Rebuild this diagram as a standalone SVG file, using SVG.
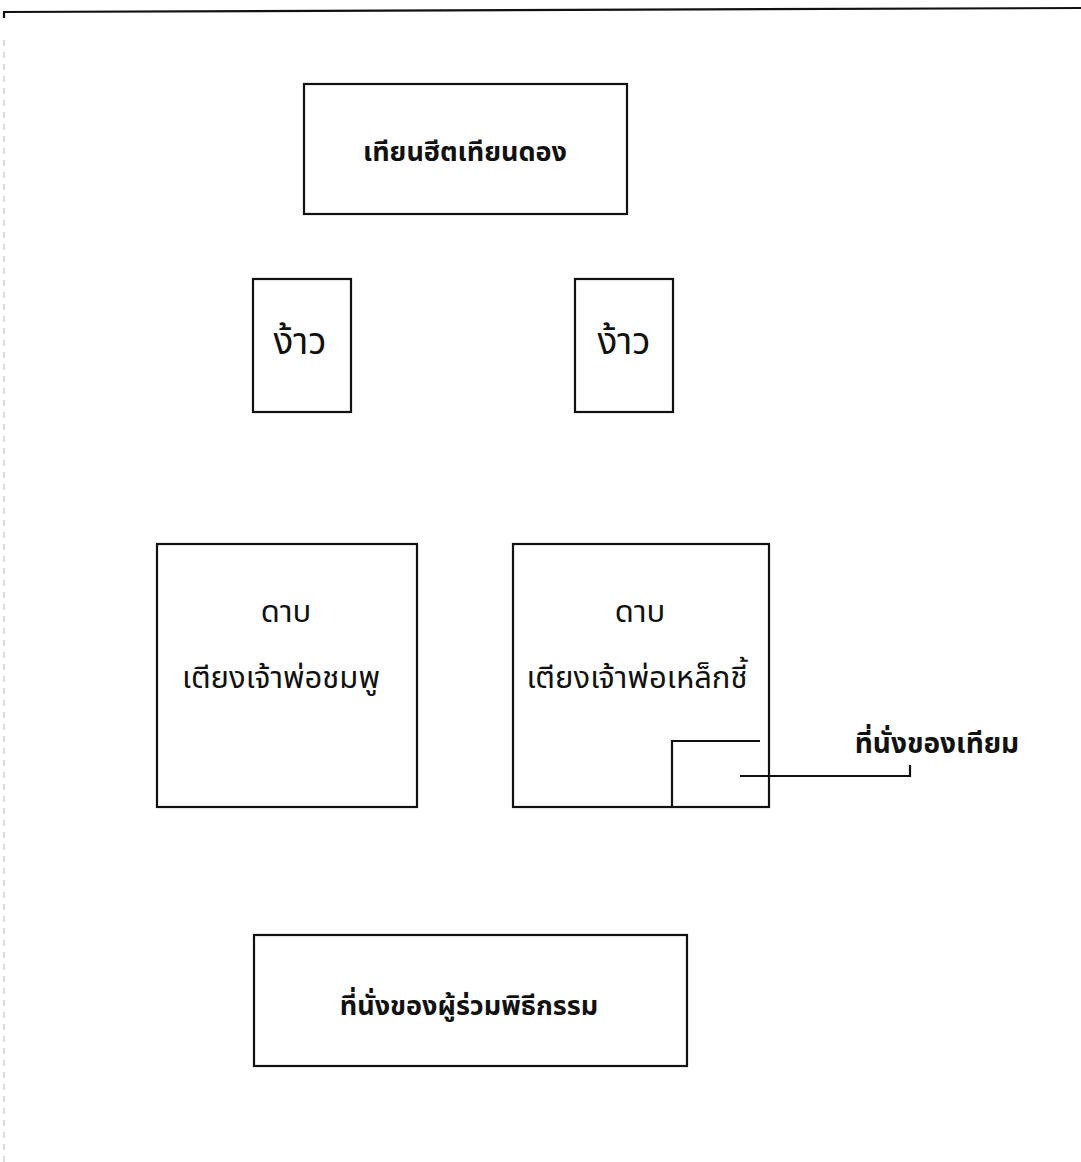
<svg xmlns="http://www.w3.org/2000/svg" width="1081" height="1162" viewBox="0 0 1081 1162">
<style>
.box{fill:none;stroke:#111;stroke-width:2.2}
.ln{fill:none;stroke:#111;stroke-width:2.2}
.t{font-family:"Noto Sans Thai","Garuda","Loma","Noto Sans",sans-serif;font-size:27px;fill:#111;text-anchor:middle}
.b{font-weight:bold}
.m{font-size:31px}
.g{font-size:37px}
</style>
<rect width="1081" height="1162" fill="#fff"/>
<g id="frame">
<path class="ln" d="M3,12 L1081,8"/>
<path d="M4,12 V18" class="ln"/>
<path d="M4,40 V1162" fill="none" stroke="#bbb" stroke-width="1" stroke-dasharray="6,6"/>
</g>
<g id="node-tianheet">
<rect class="box" x="304" y="84" width="323" height="130"/>
<text class="t b" x="465" y="161">เทียนฮีตเทียนดอง</text>
</g>
<g id="node-ngaw-left">
<rect class="box" x="253" y="279" width="98" height="133"/>
<text class="t g" x="300" y="354">ง้าว</text>
</g>
<g id="node-ngaw-right">
<rect class="box" x="575" y="279" width="98" height="133"/>
<text class="t g" x="624" y="354">ง้าว</text>
</g>
<g id="node-bed-left">
<rect class="box" x="157" y="544" width="260" height="263"/>
<text class="t m" x="286" y="622">ดาบ</text>
<text class="t m" x="281" y="688">เตียงเจ้าพ่อชมพู</text>
</g>
<g id="node-bed-right">
<rect class="box" x="513" y="544" width="256" height="263"/>
<text class="t m" x="640" y="622">ดาบ</text>
<text class="t m" x="637" y="688">เตียงเจ้าพ่อเหล็กชี้</text>
<path class="ln" d="M760,741 H672 V807"/>
</g>
<g id="node-seat-label">
<text class="t b" x="937" y="753" style="font-size:28px">ที่นั่งของเทียม</text>
</g>
<g id="node-participants">
<rect class="box" x="254" y="935" width="433" height="131"/>
<text class="t b" x="469" y="1015">ที่นั่งของผู้ร่วมพิธีกรรม</text>
</g>
<g id="connectors">
<path class="ln" d="M740,776 H910 V765"/>
</g>
</svg>
